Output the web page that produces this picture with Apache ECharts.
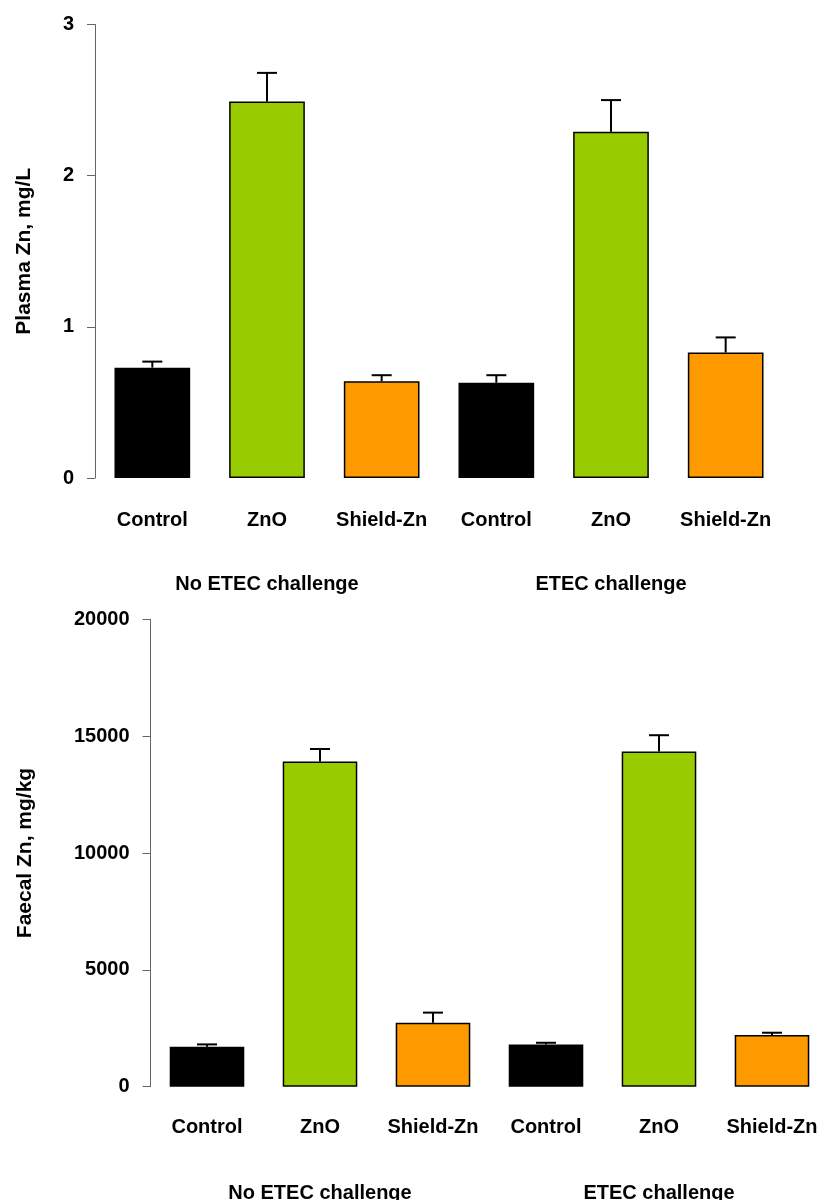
<!DOCTYPE html>
<html>
<head>
<meta charset="utf-8">
<script src="https://cdn.jsdelivr.net/npm/echarts@6/dist/echarts.min.js"></script>
<style>
html,body{margin:0;padding:0;background:#fff;}
#chart{width:826px;height:1200px;}
</style>
</head>
<body>
<div id="chart"></div>
<script>
// ---- data ----
const categories = ['Control', 'ZnO', 'Shield-Zn', 'Control', 'ZnO', 'Shield-Zn'];
const groups = ['No ETEC challenge', 'ETEC challenge'];

const plasmaValues = [0.73, 2.49, 0.64, 0.63, 2.29, 0.83];
const plasmaErrors = [0.04, 0.19, 0.04, 0.05, 0.21, 0.10];
const plasmaTicks = [0, 1, 2, 3];

const faecalValues = [1710, 13920, 2740, 1810, 14340, 2210];
const faecalErrors = [100, 530, 430, 70, 700, 100];
const faecalTicks = [0, 5000, 10000, 15000, 20000];

const plasmaTitle = 'Plasma Zn, mg/L';
const faecalTitle = 'Faecal Zn, mg/kg';

// ---- styles ----
const barColors = ['#000000', '#99CC00', '#FF9900', '#000000', '#99CC00', '#FF9900'];
const FONT = '"Liberation Sans", Arial, sans-serif';

function barData(vals) {
  return vals.map((v, i) => ({
    value: v,
    itemStyle: { color: barColors[i], borderColor: '#000', borderWidth: 1.5 }
  }));
}
function errData(vals, errs) {
  return vals.map((v, i) => [i, v, v + errs[i]]);
}
function renderErr(params, api) {
  const x = api.value(0);
  const p0 = api.coord([x, api.value(1)]);
  const p1 = api.coord([x, api.value(2)]);
  const half = 10;
  const style = { stroke: '#000', lineWidth: 2 };
  return {
    type: 'group',
    children: [
      { type: 'line', shape: { x1: p0[0], y1: p0[1], x2: p1[0], y2: p1[1] }, style: style },
      { type: 'line', shape: { x1: p1[0] - half, y1: p1[1], x2: p1[0] + half, y2: p1[1] }, style: style }
    ]
  };
}

function catAxis(gridIndex, margin) {
  return {
    type: 'category', gridIndex: gridIndex, data: categories,
    axisLine: { show: false }, axisTick: { show: false },
    axisLabel: { interval: 0, margin: margin, color: '#000', fontFamily: FONT, fontWeight: 'bold', fontSize: 20 }
  };
}
function groupAxis(gridIndex, margin) {
  return {
    type: 'category', gridIndex: gridIndex, data: groups, position: 'bottom',
    axisLine: { show: false }, axisTick: { show: false },
    axisLabel: { interval: 0, margin: margin, color: '#000', fontFamily: FONT, fontWeight: 'bold', fontSize: 20 }
  };
}
function valAxis(gridIndex, ticks, name, nameGap) {
  return {
    type: 'value', gridIndex: gridIndex,
    min: ticks[0], max: ticks[ticks.length - 1], interval: ticks[1] - ticks[0],
    name: name, nameLocation: 'middle', nameRotate: 90, nameGap: nameGap,
    nameTextStyle: { color: '#000', fontFamily: FONT, fontWeight: 'bold', fontSize: 21 },
    splitLine: { show: false },
    axisLine: { show: true, lineStyle: { color: '#666', width: 1 } },
    axisTick: { show: true, length: 8, lineStyle: { color: '#666', width: 1 } },
    axisLabel: { margin: 21, color: '#000', fontFamily: FONT, fontWeight: 'bold', fontSize: 20,
      formatter: function (v) { return String(v); } }
  };
}

const chart = echarts.init(document.getElementById('chart'), null, { renderer: 'canvas' });
chart.setOption({
  animation: false,
  backgroundColor: '#fff',
  grid: [
    { left: 95, top: 24.5, width: 688, height: 453.5, outerBoundsMode: 'none', containLabel: false },
    { left: 150.5, top: 619.3, width: 678, height: 467.4, outerBoundsMode: 'none', containLabel: false }
  ],
  xAxis: [
    catAxis(0, 32),
    catAxis(1, 31),
    groupAxis(0, 96),
    groupAxis(1, 97)
  ],
  yAxis: [
    valAxis(0, plasmaTicks, plasmaTitle, 60),
    valAxis(1, faecalTicks, faecalTitle, 115)
  ],
  series: [
    { type: 'bar', xAxisIndex: 0, yAxisIndex: 0, barWidth: '66%', data: barData(plasmaValues) },
    { type: 'custom', xAxisIndex: 0, yAxisIndex: 0, renderItem: renderErr, encode: { x: 0, y: [1, 2] }, data: errData(plasmaValues, plasmaErrors), z: 3 },
    { type: 'bar', xAxisIndex: 1, yAxisIndex: 1, barWidth: '66%', data: barData(faecalValues) },
    { type: 'custom', xAxisIndex: 1, yAxisIndex: 1, renderItem: renderErr, encode: { x: 0, y: [1, 2] }, data: errData(faecalValues, faecalErrors), z: 3 }
  ]
});
</script>
</body>
</html>
